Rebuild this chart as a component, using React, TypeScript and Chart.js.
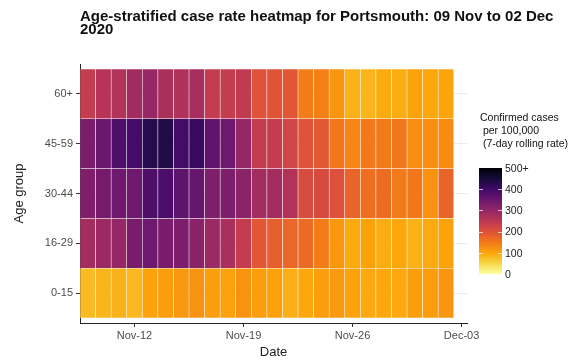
import React, { useEffect, useRef } from "react";
import { Chart, registerables } from "chart.js";

Chart.register(...registerables);

// ---------- data ----------
const dates = [
  "2020-11-09", "2020-11-10", "2020-11-11", "2020-11-12", "2020-11-13", "2020-11-14",
  "2020-11-15", "2020-11-16", "2020-11-17", "2020-11-18", "2020-11-19", "2020-11-20",
  "2020-11-21", "2020-11-22", "2020-11-23", "2020-11-24", "2020-11-25", "2020-11-26",
  "2020-11-27", "2020-11-28", "2020-11-29", "2020-11-30", "2020-12-01", "2020-12-02",
];

const ageGroups = ["0-15", "16-29", "30-44", "45-59", "60+"];

const rate0to15 = [78, 84, 87, 82, 102, 108, 115, 120, 108, 104, 120, 108, 104, 90, 98, 108, 112, 102, 96, 98, 97, 108, 110, 118];
const rate16to29 = [280, 290, 298, 332, 345, 332, 328, 312, 290, 275, 240, 192, 182, 172, 168, 145, 115, 95, 102, 92, 98, 88, 94, 102];
const rate30to44 = [325, 335, 345, 345, 385, 387, 365, 355, 325, 328, 310, 280, 280, 262, 210, 212, 200, 175, 162, 165, 148, 152, 120, 175];
const rate45to59 = [330, 350, 385, 395, 430, 436, 398, 410, 362, 345, 298, 240, 240, 222, 198, 190, 152, 135, 150, 148, 152, 125, 125, 128];
const rate60plus = [240, 258, 262, 282, 295, 272, 265, 276, 240, 238, 242, 198, 196, 192, 145, 142, 118, 88, 85, 95, 92, 102, 98, 100];

const xTickDates = ["2020-11-12", "2020-11-19", "2020-11-26", "2020-12-03"];
const xTickLabels = ["Nov-12", "Nov-19", "Nov-26", "Dec-03"];

const legendValues = [0, 100, 200, 300, 400, 500];
const legendLabels = ["0", "100", "200", "300", "400", "500+"];
const legendMax = 500;

const titleLines = ["Age-stratified case rate heatmap for Portsmouth: 09 Nov to 02 Dec", "2020"];
const legendTitleLines = ["Confirmed cases", " per 100,000", " (7-day rolling rate)"];

// ---------- helpers ----------
const seriesByGroup = [rate0to15, rate16to29, rate30to44, rate45to59, rate60plus];

const dayIndex = (d: string) => Math.round((Date.parse(d) - Date.parse(dates[0])) / 86400000);

// inferno palette (dark -> light)
const inferno = [
  "#000004", "#160B39", "#420A68", "#6A176E", "#932667", "#BC3754",
  "#DD513A", "#F37819", "#FCA50A", "#F6D746", "#FCFFA4",
];

const hexToRgb = (h: string) => [parseInt(h.slice(1, 3), 16), parseInt(h.slice(3, 5), 16), parseInt(h.slice(5, 7), 16)];

function colorFor(v: number): string {
  const t = 1 - Math.max(0, Math.min(legendMax, v)) / legendMax; // 0 dark, 1 light
  const pos = t * (inferno.length - 1);
  const i = Math.min(inferno.length - 2, Math.floor(pos));
  const f = pos - i;
  const a = hexToRgb(inferno[i]);
  const b = hexToRgb(inferno[i + 1]);
  const c = a.map((x, k) => Math.round(x + (b[k] - x) * f));
  return `rgb(${c[0]},${c[1]},${c[2]})`;
}

const FONT = "'Liberation Sans', Arial, Helvetica, sans-serif";

const decorPlugin = {
  id: "decor",
  afterDraw(chart: any) {
    const ctx = chart.ctx as CanvasRenderingContext2D;
    ctx.save();
    // title
    ctx.fillStyle = "#111";
    ctx.font = `bold 15px ${FONT}`;
    ctx.textAlign = "left";
    ctx.textBaseline = "alphabetic";
    ctx.fillText(titleLines[0], 80, 21);
    ctx.fillText(titleLines[1], 80, 34);

    // legend title
    ctx.font = `10.5px ${FONT}`;
    ctx.fillStyle = "#111";
    ctx.textBaseline = "middle";
    legendTitleLines.forEach((l, i) => ctx.fillText(l, 480, 118 + i * 13));

    // colour bar
    const bx = 479, bw = 23, top = 168, bottom = 274;
    const grad = ctx.createLinearGradient(0, bottom, 0, top);
    inferno.slice().reverse().forEach((c, i) => grad.addColorStop(i / (inferno.length - 1), c));
    ctx.fillStyle = grad;
    ctx.fillRect(bx, top, bw, bottom - top);
    const yOf = (v: number) => bottom - (v / legendMax) * (bottom - top);
    ctx.strokeStyle = "rgba(255,255,255,0.7)";
    ctx.lineWidth = 1;
    legendValues.forEach((v) => {
      if (v === 0 || v === legendMax) return;
      const y = Math.round(yOf(v)) + 0.5;
      ctx.beginPath();
      ctx.moveTo(bx, y); ctx.lineTo(bx + 4, y);
      ctx.moveTo(bx + bw - 4, y); ctx.lineTo(bx + bw, y);
      ctx.stroke();
    });
    ctx.fillStyle = "#222";
    ctx.font = `10.5px ${FONT}`;
    legendValues.forEach((v, i) => ctx.fillText(legendLabels[i], 505, yOf(v) + 1));
    ctx.restore();
  },
};

export default function App() {
  const ref = useRef<HTMLCanvasElement | null>(null);

  useEffect(() => {
    if (!ref.current) return;
    const chart = new Chart(ref.current, {
      type: "bar",
      data: {
        datasets: ageGroups.map((g, i) => ({
          label: g,
          data: dates.map((d) => ({ x: dayIndex(d), y: [i, i + 1] })),
          backgroundColor: seriesByGroup[i].map((v) => colorFor(v)),
          borderColor: "rgba(255,255,255,0.22)",
          borderWidth: 0.6,
          borderSkipped: false,
          grouped: false,
          barPercentage: 1,
          categoryPercentage: 1,
        })) as any,
      },
      options: {
        responsive: false,
        animation: false,
        layout: { padding: { top: 64, right: 118, left: 0, bottom: 0 } },
        plugins: {
          legend: { display: false },
          tooltip: { enabled: false },
          title: { display: false },
        },
        scales: {
          x: {
            type: "linear",
            offset: false,
            min: -0.5,
            max: 24.35,
            afterBuildTicks: (s: any) => {
              s.ticks = xTickDates.map((d) => ({ value: dayIndex(d) }));
            },
            afterFit: (s: any) => {
              s.height = 39;
            },
            ticks: {
              autoSkip: false,
              maxRotation: 0,
              padding: 2,
              color: "#4D4D4D",
              font: { family: FONT, size: 11 },
              callback: (v: any) => {
                const k = xTickDates.findIndex((d) => dayIndex(d) === v);
                return k >= 0 ? xTickLabels[k] : "";
              },
            },
            grid: { display: true, offset: false, drawOnChartArea: false, drawTicks: true, tickLength: 4, tickColor: "#333" },
            border: { display: true, color: "#222", width: 1 },
            title: { display: true, text: "Date", color: "#222", font: { family: FONT, size: 13 }, padding: { top: 0, bottom: 2 } },
          },
          y: {
            type: "linear",
            min: -0.1,
            max: 5.1,
            afterBuildTicks: (s: any) => {
              s.ticks = ageGroups.map((_, i) => ({ value: i + 0.5 }));
            },
            afterFit: (s: any) => {
              s.width = 80;
            },
            ticks: {
              autoSkip: false,
              padding: 3,
              color: "#4D4D4D",
              font: { family: FONT, size: 11 },
              callback: (v: any) => ageGroups[Math.round(v - 0.5)] ?? "",
            },
            grid: { display: true, color: "#EBEBEB", drawTicks: true, tickLength: 4, tickColor: "#333" },
            border: { display: true, color: "#222", width: 1 },
            title: { display: true, text: "Age group", color: "#222", font: { family: FONT, size: 13 }, padding: { top: 12, bottom: 0 } },
          },
        },
      } as any,
      plugins: [decorPlugin],
    });
    return () => chart.destroy();
  }, []);

  return (
    <div style={{ position: "absolute", left: 0, top: 0, width: 585, height: 362, background: "#fff" }}>
      <canvas ref={ref} width={585} height={362} />
    </div>
  );
}
